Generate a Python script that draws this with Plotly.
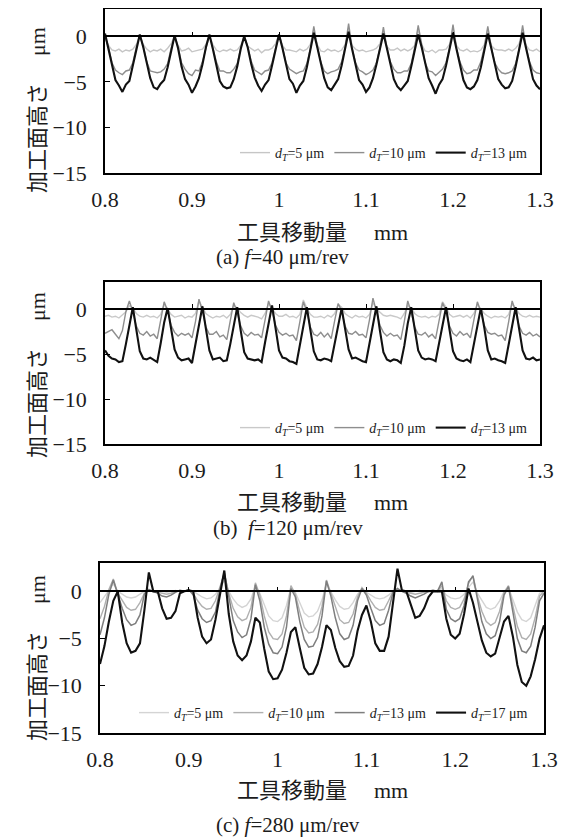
import plotly.graph_objects as go

# ---------------- data ----------------
# tool travel (mm) sample grid for panels (a) and (b)
x_ab = [
    0.800, 0.804, 0.808, 0.812, 0.816, 0.820, 0.824, 0.828, 0.832, 0.836,
    0.840, 0.844, 0.848, 0.852, 0.856, 0.860, 0.864, 0.868, 0.872, 0.876,
    0.880, 0.884, 0.888, 0.892, 0.896, 0.900, 0.904, 0.908, 0.912, 0.916,
    0.920, 0.924, 0.928, 0.932, 0.936, 0.940, 0.944, 0.948, 0.952, 0.956,
    0.960, 0.964, 0.968, 0.972, 0.976, 0.980, 0.984, 0.988, 0.992, 0.996,
    1.000, 1.004, 1.008, 1.012, 1.016, 1.020, 1.024, 1.028, 1.032, 1.036,
    1.040, 1.044, 1.048, 1.052, 1.056, 1.060, 1.064, 1.068, 1.072, 1.076,
    1.080, 1.084, 1.088, 1.092, 1.096, 1.100, 1.104, 1.108, 1.112, 1.116,
    1.120, 1.124, 1.128, 1.132, 1.136, 1.140, 1.144, 1.148, 1.152, 1.156,
    1.160, 1.164, 1.168, 1.172, 1.176, 1.180, 1.184, 1.188, 1.192, 1.196,
    1.200, 1.204, 1.208, 1.212, 1.216, 1.220, 1.224, 1.228, 1.232, 1.236,
    1.240, 1.244, 1.248, 1.252, 1.256, 1.260, 1.264, 1.268, 1.272, 1.276,
    1.280, 1.284, 1.288, 1.292, 1.296, 1.300,
]

# (a) f = 40 um/rev
a_d5 = [
    0.0, -1.0, -1.5, -1.6, -1.4, -1.7, -1.5, -1.6, -1.4, -0.9,
    0.1, -0.9, -1.4, -1.7, -1.5, -1.6, -1.4, -1.7, -1.3, -0.8,
    0.0, -1.0, -1.6, -1.5, -1.3, -1.7, -1.6, -1.5, -1.4, -0.9,
    0.1, -0.9, -1.5, -1.7, -1.5, -1.6, -1.4, -1.6, -1.5, -1.0,
    0.0, -1.1, -1.4, -1.6, -1.4, -1.8, -1.5, -1.5, -1.3, -0.8,
    0.2, -1.0, -1.5, -1.5, -1.6, -1.7, -1.4, -1.6, -1.4, -0.9,
    0.7, -0.9, -1.6, -1.7, -1.4, -1.6, -1.5, -1.7, -1.5, -0.9,
    0.9, -1.0, -1.4, -1.6, -1.5, -1.7, -1.6, -1.5, -1.3, -0.8,
    0.6, -1.1, -1.5, -1.5, -1.3, -1.6, -1.4, -1.6, -1.4, -1.0,
    0.8, -0.9, -1.6, -1.7, -1.5, -1.8, -1.5, -1.5, -1.4, -0.9,
    0.9, -1.0, -1.5, -1.6, -1.4, -1.7, -1.6, -1.7, -1.5, -0.9,
    0.7, -1.0, -1.4, -1.5, -1.5, -1.6, -1.4, -1.6, -1.3, -0.8,
    0.8, -1.0, -1.5, -1.6, -1.4, -1.7,
]
a_d10 = [
    0.0, -1.2, -2.9, -3.7, -4.0, -4.2, -3.8, -3.7, -2.9, -1.2,
    0.1, -1.1, -2.8, -3.8, -3.9, -4.0, -3.9, -3.6, -3.0, -1.3,
    0.0, -1.2, -2.9, -3.6, -4.1, -4.3, -3.7, -3.8, -2.8, -1.2,
    0.1, -1.3, -2.8, -3.8, -3.8, -4.0, -4.0, -3.6, -3.0, -1.3,
    0.0, -1.1, -2.7, -3.7, -4.0, -4.2, -3.8, -3.7, -2.9, -1.2,
    0.2, -1.2, -2.9, -3.6, -3.9, -4.1, -3.9, -3.8, -3.0, -1.4,
    1.1, -1.1, -2.8, -3.8, -4.1, -3.9, -3.8, -3.6, -2.8, -1.2,
    1.4, -1.3, -2.9, -3.7, -3.9, -4.2, -4.0, -3.7, -2.9, -1.3,
    1.0, -1.2, -2.8, -3.6, -4.0, -4.0, -3.8, -3.8, -3.0, -1.2,
    1.2, -1.1, -2.9, -3.8, -3.9, -4.3, -3.9, -3.6, -2.9, -1.3,
    1.3, -1.3, -2.8, -3.7, -4.1, -4.0, -3.7, -3.7, -2.8, -1.2,
    1.1, -1.2, -2.9, -3.6, -4.0, -4.1, -4.0, -3.8, -3.0, -1.4,
    1.2, -1.2, -2.8, -3.7, -4.0, -4.1,
]
a_d13 = [
    0.3, -1.4, -3.3, -4.8, -5.4, -6.1, -5.3, -4.9, -3.2, -1.3,
    0.2, -1.2, -3.1, -4.6, -5.6, -5.8, -5.2, -4.8, -3.4, -1.5,
    0.1, -1.3, -3.3, -4.7, -5.3, -6.2, -5.5, -4.6, -3.1, -1.2,
    0.2, -1.4, -3.2, -4.9, -5.5, -5.7, -5.6, -4.7, -3.3, -1.4,
    0.0, -1.2, -3.0, -4.5, -5.4, -6.0, -5.3, -4.8, -3.2, -1.3,
    0.2, -1.3, -3.2, -4.7, -5.2, -6.2, -5.4, -4.9, -3.4, -1.5,
    0.4, -1.2, -3.1, -4.6, -5.6, -5.9, -5.3, -4.7, -3.2, -1.3,
    0.5, -1.4, -3.3, -4.8, -5.3, -6.1, -5.6, -4.6, -3.1, -1.2,
    0.3, -1.3, -3.2, -4.7, -5.5, -5.9, -5.4, -4.9, -3.3, -1.4,
    0.2, -1.2, -3.1, -4.6, -5.4, -6.3, -5.3, -4.7, -3.2, -1.3,
    0.4, -1.4, -3.3, -4.8, -5.6, -5.8, -5.5, -4.8, -3.4, -1.5,
    0.3, -1.3, -3.2, -4.7, -5.3, -5.7, -5.6, -4.9, -3.3, -1.4,
    0.4, -1.3, -3.2, -4.7, -5.4, -5.8,
]

# (b) f = 120 um/rev
b_d5 = [
    -0.8, -0.7, -0.9, -0.8, -1.0, -0.7, -0.3, 0.4,
    0.1, -0.5, -0.8, -0.9, -0.7, -0.9, -0.8, -1.0, -0.6, 0.5,
    0.0, -0.6, -0.9, -0.8, -0.7, -1.0, -0.8, -0.9, -0.5, 0.9,
    0.2, -0.5, -0.8, -1.0, -0.8, -0.9, -0.7, -1.0, -0.6, 0.4,
    0.1, -0.4, -0.7, -0.9, -0.7, -0.8, -0.9, -1.1, -0.5, 0.6,
    0.0, -0.5, -0.8, -0.8, -0.6, -0.9, -0.8, -1.0, -0.6, 1.0,
    0.1, -0.6, -0.9, -0.9, -0.8, -1.0, -0.7, -0.9, -0.5, 0.5,
    0.2, -0.5, -0.8, -1.0, -0.7, -0.9, -0.8, -1.0, -0.6, 0.7,
    0.0, -0.4, -0.7, -0.8, -0.7, -0.8, -0.9, -1.1, -0.5, 0.4,
    0.1, -0.5, -0.8, -0.9, -0.8, -1.0, -0.8, -0.9, -0.6, 0.8,
    0.2, -0.6, -0.9, -0.8, -0.7, -0.9, -0.7, -1.0, -0.5, 0.5,
    0.0, -0.5, -0.8, -1.0, -0.8, -0.9, -0.8, -1.0, -0.6, 0.6,
    0.1, -0.5, -0.8, -0.9, -0.7, -0.9, -0.8, -0.9,
]
b_d10 = [
    -2.7, -2.5, -2.3, -2.8, -3.3, -2.4, -0.3, 0.9,
    -0.3, -1.9, -2.7, -2.9, -2.5, -3.0, -2.8, -3.3, -1.2, 0.8,
    -0.2, -1.8, -2.6, -3.0, -2.7, -2.9, -2.7, -3.2, -1.4, 1.1,
    -0.3, -2.0, -2.8, -2.8, -2.5, -3.1, -2.9, -3.4, -1.3, 0.7,
    -0.4, -1.9, -2.7, -3.0, -2.6, -2.9, -2.8, -3.2, -1.2, 0.9,
    -0.2, -1.8, -2.6, -2.9, -2.7, -3.0, -2.9, -3.5, -1.4, 0.8,
    -0.3, -2.0, -2.8, -3.0, -2.6, -3.1, -2.7, -3.3, -1.3, 0.6,
    -0.2, -1.9, -2.7, -2.8, -2.5, -2.9, -2.8, -3.2, -1.2, 1.2,
    -0.3, -1.8, -2.6, -3.0, -2.7, -3.0, -2.9, -3.4, -1.4, 0.9,
    -0.4, -2.0, -2.8, -2.9, -2.6, -3.1, -2.8, -3.3, -1.3, 0.7,
    -0.2, -1.9, -2.7, -3.0, -2.5, -2.9, -2.7, -3.2, -1.2, 0.8,
    -0.3, -1.8, -2.6, -2.8, -2.7, -3.0, -2.9, -3.5, -1.4, 0.9,
    -0.3, -1.9, -2.7, -2.9, -2.6, -3.0, -2.8, -3.1,
]
b_d13 = [
    -4.6, -5.2, -5.5, -5.6, -5.9, -5.8, -3.9, -1.6,
    0.2, -2.3, -4.7, -5.5, -5.6, -5.4, -5.7, -5.9, -3.8, -1.5,
    0.1, -2.1, -4.5, -5.4, -5.7, -5.6, -5.5, -6.0, -4.0, -1.7,
    0.3, -2.2, -4.6, -5.6, -5.5, -5.4, -5.8, -5.7, -3.9, -1.6,
    0.2, -2.4, -4.8, -5.5, -5.6, -5.7, -5.6, -5.9, -3.7, -1.5,
    0.4, -2.1, -4.6, -5.4, -5.5, -5.8, -5.9, -6.1, -4.0, -1.6,
    0.2, -2.3, -4.7, -5.6, -5.7, -5.5, -5.6, -5.8, -3.8, -1.7,
    0.1, -2.2, -4.5, -5.5, -5.4, -5.6, -5.8, -5.9, -3.9, -1.5,
    0.3, -2.4, -4.8, -5.6, -5.8, -5.6, -5.7, -6.0, -4.1, -1.6,
    0.2, -2.2, -4.6, -5.4, -5.6, -5.5, -5.6, -5.8, -3.8, -1.5,
    0.2, -2.3, -4.7, -5.5, -5.7, -5.8, -5.6, -5.9, -3.9, -1.6,
    0.1, -2.1, -4.6, -5.6, -5.5, -5.7, -5.8, -6.0, -4.0, -1.7,
    0.2, -2.2, -4.6, -5.5, -5.6, -5.4, -5.7, -5.6,
]

# (c) f = 280 um/rev
x_c = [
    0.800, 0.805, 0.810, 0.815, 0.820, 0.825, 0.830, 0.835, 0.840, 0.845,
    0.850, 0.855, 0.860, 0.865, 0.870, 0.875, 0.880, 0.885, 0.890, 0.895,
    0.900, 0.905, 0.910, 0.915, 0.920, 0.925, 0.930, 0.935, 0.940, 0.945,
    0.950, 0.955, 0.960, 0.965, 0.970, 0.975, 0.980, 0.985, 0.990, 0.995,
    1.000, 1.005, 1.010, 1.015, 1.020, 1.025, 1.030, 1.035, 1.040, 1.045,
    1.050, 1.055, 1.060, 1.065, 1.070, 1.075, 1.080, 1.085, 1.090, 1.095,
    1.100, 1.105, 1.110, 1.115, 1.120, 1.125, 1.130, 1.135, 1.140, 1.145,
    1.150, 1.155, 1.160, 1.165, 1.170, 1.175, 1.180, 1.185, 1.190, 1.195,
    1.200, 1.205, 1.210, 1.215, 1.220, 1.225, 1.230, 1.235, 1.240, 1.245,
    1.250, 1.255, 1.260, 1.265, 1.270, 1.275, 1.280, 1.285, 1.290, 1.295,
    1.300,
]
c_d5 = [
    -1.2, -0.6, 0.1, 0.8, 0.0, -0.3, -0.6, -0.7, -0.6, -0.3,
    0.0, 0.1, 0.0, -0.1, 0.0, -0.1, 0.0, 0.1, 0.0, 0.0,
    0.1, 0.0, -0.3, -0.6, -0.8, -0.7, -0.3, 0.3, 1.2, 0.0,
    -0.8, -1.4, -1.7, -1.5, -0.8, 0.6, -0.2, -1.4, -2.6, -3.1,
    -3.2, -2.8, -1.5, 0.4, -0.1, -1.2, -2.3, -2.7, -2.6, -2.1,
    -0.9, 0.8, -0.1, -0.9, -1.6, -1.9, -1.8, -1.2, -0.3, 0.2,
    -0.1, -0.4, -0.7, -0.8, -0.7, -0.4, 0.0, 0.1, 0.0, 0.0,
    -0.1, 0.0, 0.1, 0.0, -0.1, 0.0, 0.1, 0.3, -0.4, -0.7,
    -0.8, -0.7, -0.3, 0.4, 1.0, -0.2, -1.0, -1.7, -1.9, -1.7,
    -1.0, 0.0, 0.4, -0.8, -2.2, -3.0, -3.2, -2.8, -1.6, -0.2,
    0.0,
]
c_d10 = [
    -2.9, -1.6, 0.2, 1.3, -0.2, -1.0, -1.7, -2.0, -1.9, -1.2,
    -0.2, 0.1, 0.0, -0.1, -0.2, -0.3, -0.2, 0.0, 0.1, 0.0,
    0.1, -0.2, -1.0, -1.6, -1.9, -1.8, -1.0, 0.4, 1.9, -0.2,
    -1.8, -2.7, -3.1, -2.9, -1.7, 0.9, -0.4, -2.6, -4.3, -5.0,
    -5.1, -4.5, -2.6, 0.6, -0.3, -2.2, -3.8, -4.4, -4.3, -3.5,
    -1.6, 1.2, -0.2, -1.8, -3.0, -3.4, -3.3, -2.4, -0.6, 0.4,
    -0.2, -1.0, -1.7, -2.0, -1.9, -1.0, 0.0, 0.2, 0.0, -0.1,
    -0.2, -0.3, -0.2, -0.1, 0.0, 0.1, 0.0, 0.6, -1.0, -1.7,
    -1.9, -1.7, -0.8, 0.8, 1.7, -0.5, -2.1, -3.2, -3.6, -3.3,
    -2.1, -0.1, 0.6, -1.5, -3.7, -4.9, -5.1, -4.5, -2.8, -0.5,
    0.0,
]
c_d13 = [
    -4.6, -2.8, -0.3, 1.2, -0.3, -1.8, -3.0, -3.6, -3.4, -2.5,
    -0.3, 0.2, 0.0, -0.2, -0.5, -0.6, -0.4, -0.1, 0.1, 0.0,
    0.2, -0.4, -2.0, -2.9, -3.3, -3.1, -2.2, 0.2, 2.0, -0.5,
    -3.1, -4.3, -4.9, -4.6, -2.9, 0.7, -1.0, -3.8, -5.6, -6.5,
    -6.6, -5.9, -3.8, 0.3, -0.6, -3.2, -5.1, -5.9, -5.8, -4.9,
    -2.6, 1.1, -0.5, -2.8, -4.5, -5.1, -4.9, -3.6, -1.0, 0.3,
    -0.4, -1.8, -3.1, -3.6, -3.4, -2.0, -0.1, 0.3, 0.0, -0.2,
    -0.5, -0.7, -0.5, -0.3, 0.0, 0.1, 0.0, 1.0, -1.9, -2.9,
    -3.2, -2.9, -1.5, 1.0, 1.6, -1.0, -3.2, -4.5, -5.0, -4.7,
    -3.2, -0.4, 0.5, -2.2, -5.0, -6.3, -6.5, -5.8, -3.8, -1.0,
    -0.2,
]
c_d17 = [
    -7.7, -5.8, -3.2, -1.0, 0.0, -3.3, -5.5, -6.5, -6.3, -5.5,
    -2.0, 2.0, 0.0, 0.0, -1.8, -2.9, -2.8, -2.1, -0.2, 0.0,
    0.1, 0.0, -2.8, -4.8, -5.5, -5.1, -3.0, -0.5, 2.2, -2.4,
    -5.3, -6.8, -7.3, -6.8, -5.3, -2.8, -3.3, -6.1, -8.5, -9.3,
    -9.2, -8.3, -6.5, -4.3, -3.8, -6.0, -8.1, -8.8, -8.7, -7.7,
    -5.9, -3.6, -4.1, -6.0, -7.4, -8.0, -7.9, -6.8, -4.2, -2.5,
    -1.5, -3.2, -5.5, -6.3, -6.3, -4.8, -1.3, 2.4, 0.1, 0.0,
    -1.4, -2.8, -2.6, -1.8, -0.6, 0.0, 0.0, 0.0, -2.9, -4.6,
    -5.0, -4.5, -2.4, 0.3, -1.2, -3.2, -5.2, -6.5, -6.9, -6.6,
    -5.0, -3.2, -2.6, -4.8, -7.8, -9.6, -10.0, -9.0, -7.2, -5.0,
    -3.6,
]

x_tickvals = [0.8, 0.9, 1.0, 1.1, 1.2, 1.3]
x_ticktext = ["0.8", "0.9", "1", "1.1", "1.2", "1.3"]
y_tickvals = [-15, -10, -5, 0]
y_range = [-15, 3]
x_range = [0.8, 1.3]

captions = ["(a) <i>f</i>=40 μm/rev", "(b)  <i>f</i>=120 μm/rev", "(c) <i>f</i>=280 μm/rev"]

# ---------------- styling ----------------
W, H = 566, 837          # window size
OFF = 8                  # page body margin offset
FW, FH = W - OFF, H - OFF  # figure size so that the figure ends at the window edge
SERIF = "Liberation Serif, Times New Roman, serif"
JP = "Noto Sans CJK JP, Noto Sans CJK SC, sans-serif"
TXT = "#1c1c1c"


def fx(px):
    return (px - OFF) / FW


def fy(py):
    return 1 - (py - OFF) / FH


def dlabel(v):
    return "<i>d</i><sub><i>T</i></sub>=" + str(v) + " μm"


panels = [
    dict(box=(105, 540, 9, 173), x=x_ab,
         series=[(a_d5, 5, "#c6c6c6", 1.4), (a_d10, 10, "#8e8e8e", 1.4), (a_d13, 13, "#111111", 2.1)],
         legend_right=533, legend_y=153, xtitle_y=230, cap_y=257, cap_x=282, ytitle_y=110),
    dict(box=(105, 540, 282, 444), x=x_ab,
         series=[(b_d5, 5, "#c9c9c9", 1.4), (b_d10, 10, "#8e8e8e", 1.4), (b_d13, 13, "#111111", 2.1)],
         legend_right=533, legend_y=428, xtitle_y=500, cap_y=528, cap_x=288, ytitle_y=375),
    dict(box=(100, 544, 563, 733), x=x_c,
         series=[(c_d5, 5, "#d4d4d4", 1.4), (c_d10, 10, "#b0b0b0", 1.4),
                 (c_d13, 13, "#7e7e7e", 1.5), (c_d17, 17, "#111111", 2.1)],
         legend_right=533, legend_y=713, xtitle_y=788, cap_y=825, cap_x=288, ytitle_y=658),
]

fig = go.Figure()
layout = dict(
    width=FW, height=FH, autosize=False,
    margin=dict(l=0, r=0, t=0, b=0, pad=0),
    paper_bgcolor="white", plot_bgcolor="white",
    showlegend=True,
    font=dict(family=SERIF, color=TXT),
)
annotations = []

for i, p in enumerate(panels, start=1):
    x0, x1, y0, y1 = p["box"]
    xd = [fx(x0), fx(x1)]
    yd = [fy(y1), fy(y0)]
    xa = "x" if i == 1 else f"x{i}"
    ya = "y" if i == 1 else f"y{i}"
    xz = f"x{i + 3}"
    leg = "legend" if i == 1 else f"legend{i}"

    for ys, dv, col, lw in p["series"]:
        fig.add_trace(go.Scatter(
            x=p["x"], y=ys, mode="lines", name=dlabel(dv),
            line=dict(color=col, width=lw), xaxis=xa, yaxis=ya, legend=leg,
        ))
    # invisible binding trace for the zero-level axis (ticks on y = 0)
    fig.add_trace(go.Scatter(
        x=p["x"], y=p["series"][-1][0], mode="lines", opacity=0, showlegend=False,
        hoverinfo="skip", xaxis=xz, yaxis=ya, line=dict(width=0.1),
    ))

    xkey = "xaxis" if i == 1 else f"xaxis{i}"
    ykey = "yaxis" if i == 1 else f"yaxis{i}"
    layout[xkey] = dict(
        domain=xd, anchor=ya, range=x_range, tickvals=x_tickvals, ticktext=x_ticktext,
        ticks="", showline=True, mirror=True, linecolor="black", linewidth=1.6,
        showgrid=False, zeroline=False, ticklabelstandoff=6, automargin=False,
        tickfont=dict(family=SERIF, size=22, color=TXT),
    )
    layout[ykey] = dict(
        domain=yd, anchor=xa, range=y_range, tickvals=y_tickvals,
        ticks="inside", ticklen=5, tickwidth=1.2, tickcolor="black",
        showline=True, mirror=True, linecolor="black", linewidth=1.6,
        showgrid=False, zeroline=False, ticklabelstandoff=12, automargin=False,
        tickfont=dict(family=SERIF, size=22, color=TXT),
    )
    zero_pos = yd[0] + (yd[1] - yd[0]) * (0 - y_range[0]) / (y_range[1] - y_range[0])
    layout[f"xaxis{i + 3}"] = dict(
        overlaying=xa, anchor="free", position=zero_pos, range=x_range,
        tickvals=x_tickvals, ticks="inside", ticklen=4, tickwidth=1.2, tickcolor="black",
        showticklabels=False, showline=True, linecolor="black", linewidth=1.5,
        showgrid=False, zeroline=False, layer="above traces", automargin=False,
    )
    layout[leg] = dict(
        orientation="h", x=fx(p["legend_right"]), xanchor="right",
        y=fy(p["legend_y"]), yanchor="middle",
        bgcolor="rgba(0,0,0,0)", borderwidth=0,
        font=dict(family=SERIF, size=14, color=TXT),
        itemwidth=30, tracegroupgap=0,
    )

    # y-axis title (vertical)
    annotations.append(dict(
        text="加工面高さ　 <span style='font-family:Liberation Serif'>μm</span>",
        x=fx(35), y=fy(p["ytitle_y"]), xref="paper", yref="paper",
        textangle=-90, showarrow=False, xanchor="center", yanchor="middle",
        font=dict(family=JP, size=22, color=TXT),
    ))
    # x-axis title
    annotations.append(dict(
        text="工具移動量　 <span style='font-family:Liberation Serif'>mm</span>",
        x=fx((x0 + x1) / 2), y=fy(p["xtitle_y"]), xref="paper", yref="paper",
        showarrow=False, xanchor="center", yanchor="middle",
        font=dict(family=JP, size=22, color=TXT),
    ))
    # caption
    annotations.append(dict(
        text=captions[i - 1], x=fx(p["cap_x"]), y=fy(p["cap_y"]),
        xref="paper", yref="paper", showarrow=False, xanchor="center", yanchor="middle",
        font=dict(family=SERIF, size=21, color=TXT),
    ))

layout["annotations"] = annotations
fig.update_layout(**layout)
fig.write_html("out.html")
